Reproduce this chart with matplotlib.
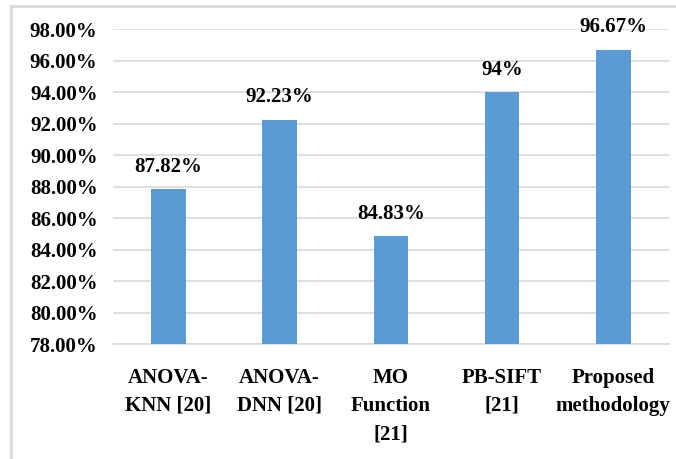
import matplotlib
matplotlib.use("Agg")
import matplotlib.pyplot as plt
from matplotlib.lines import Line2D

methods = ["ANOVA-\nKNN [20]", "ANOVA-\nDNN [20]", "MO\nFunction\n[21]", "PB-SIFT\n[21]", "Proposed\nmethodology"]
accuracy = [87.82, 92.23, 84.83, 94.0, 96.67]
value_labels = ["87.82%", "92.23%", "84.83%", "94%", "96.67%"]
yticks = [78, 80, 82, 84, 86, 88, 90, 92, 94, 96, 98]

plt.rcParams["font.family"] = ["Liberation Serif", "DejaVu Serif"]
plt.rcParams["font.weight"] = "bold"

fig = plt.figure(figsize=(6.76, 4.59), dpi=100)
ax = fig.add_axes([0.1669, 0.2505, 0.8227, 0.6863])

xn = range(len(methods))
ax.bar(xn, accuracy, width=0.31, color="#5B9BD5", zorder=3)
ax.set_ylim(78, 98)
ax.set_xlim(-0.5, len(methods) - 0.5)
ax.set_yticks(yticks)
ax.set_yticklabels(["%.2f%%" % v for v in yticks], fontsize=15, fontweight="bold")
ax.set_xticks(list(xn))
ax.set_xticklabels(methods, fontsize=15, fontweight="bold", linespacing=1.55)
ax.tick_params(axis="y", length=0, pad=11)
ax.tick_params(axis="x", length=0, pad=17)
ax.grid(axis="y", color="#D9D9D9", linewidth=1.2, zorder=0)
for s in ["top", "right", "left"]:
    ax.spines[s].set_visible(False)
ax.spines["bottom"].set_color("#D9D9D9")
ax.spines["bottom"].set_linewidth(1.2)

for i, v in enumerate(accuracy):
    ax.annotate(value_labels[i], (i, v), xytext=(0, 9), textcoords="offset points",
                ha="center", va="bottom", fontsize=15, fontweight="bold")

# outer frame of the chart box (cut off at right and bottom)
fig.add_artist(Line2D([11 / 676, 11 / 676], [0, 1 - 6 / 459], transform=fig.transFigure,
                      color="#D9D9D9", linewidth=2))
fig.add_artist(Line2D([11 / 676, 1], [1 - 6 / 459, 1 - 6 / 459], transform=fig.transFigure,
                      color="#D9D9D9", linewidth=2))

plt.savefig("out.png", dpi=100)
plt.close()
